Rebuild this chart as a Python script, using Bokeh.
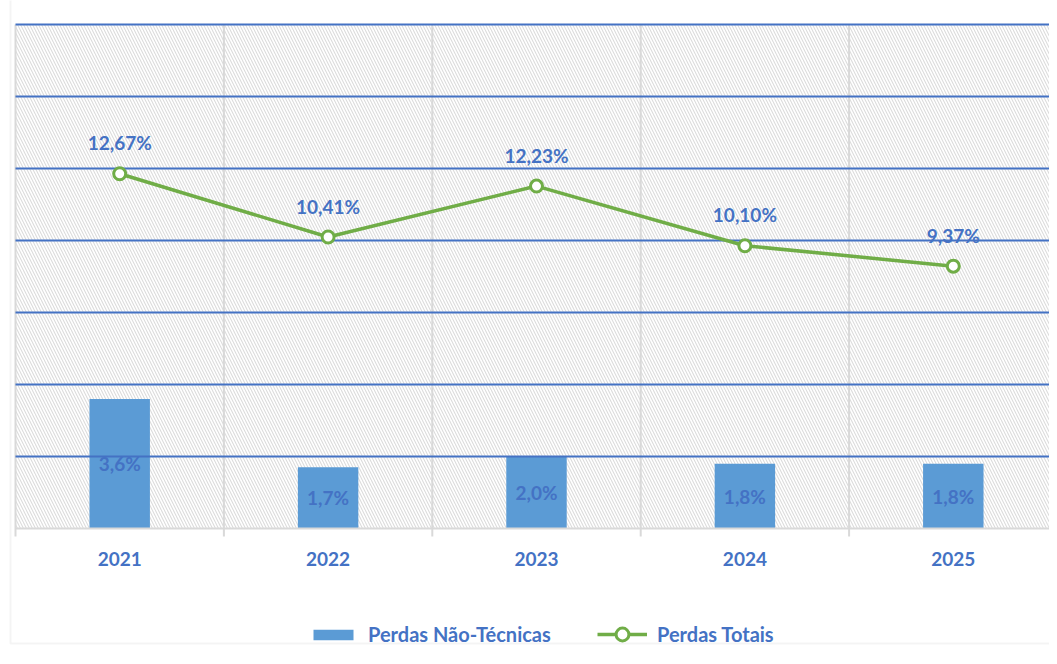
from bokeh.plotting import figure
from bokeh.models import (Range1d, BoxAnnotation, Legend, LegendItem,
                          ColumnDataSource)
from bokeh.core.properties import value
from bokeh.embed import file_html
from bokeh.resources import INLINE

years = ["2021", "2022", "2023", "2024", "2025"]
nao_tecnicas = [3.6, 1.7, 2.0, 1.8, 1.8]
totais = [12.67, 10.41, 12.23, 10.10, 9.37]
grid_values = [2, 4, 6, 8, 10, 12, 14]

BLUE_TXT = "#4472c4"
BAR = "#5b9bd5"
GREEN = "#70ad47"
GREY = "#d9d9d9"
FONT = "Lato"

# canvas / plot-area geometry (pixels)
W, H = 1049, 656
PL, PR, PT, PB = 15, 1057, 24, 528       # plot area edges (right edge runs past canvas)
Y1_MAX, Y2_MAX = 14, 18                   # primary / secondary axis maxima
n = len(years)
ux = (PR - PL) / n
uy1 = (PB - PT) / Y1_MAX
uy2 = (PB - PT) / Y2_MAX
tick_len = 8 / uy1

xs = [i + 0.5 for i in range(n)]
src = ColumnDataSource(dict(
    x=xs,
    bar=nao_tecnicas,
    bar_mid=[v / 2 for v in nao_tecnicas],
    bar_lbl=[f"{v:.1f}%".replace(".", ",") for v in nao_tecnicas],
    tot=totais,
    tot_lbl=[f"{v:.2f}%".replace(".", ",") for v in totais],
    zero=[0] * n,
    year=years,
))
bounds = list(range(n + 1))
vsrc = ColumnDataSource(dict(x=bounds, y0=[-tick_len] * len(bounds),
                             y1=[Y1_MAX] * len(bounds)))
hsrc = ColumnDataSource(dict(y=grid_values, x0=[0] * len(grid_values),
                             x1=[n] * len(grid_values)))

p = figure(width=W, height=H, output_backend="svg", toolbar_location=None,
           x_range=Range1d(-PL / ux, (W - PL) / ux),
           y_range=Range1d(-(H - PB) / uy1, Y1_MAX + PT / uy1),
           min_border=0, outline_line_color=None, background_fill_color="white")
p.extra_y_ranges = {"sec": Range1d(-(H - PB) / uy2, Y2_MAX + PT / uy2)}
p.xaxis.visible = False
p.yaxis.visible = False
p.grid.visible = False

# outer chart border (top/left visible)
outer = BoxAnnotation(left=10, right=W + 50, top=13, bottom=H + 50,
                      left_units="screen", right_units="screen",
                      top_units="screen", bottom_units="screen",
                      fill_alpha=0, line_color=GREY, line_width=2, level="overlay")
p.add_layout(outer)

# hatched plot background
hatch = BoxAnnotation(left=0, right=n, bottom=0, top=Y1_MAX,
                      fill_color="white", fill_alpha=1, line_color=None,
                      hatch_pattern="\\", hatch_color="#dcdcdc", hatch_scale=6,
                      hatch_weight=1.1, level="image")
p.add_layout(hatch)

# bars
bars = p.vbar(x="x", top="bar", width=0.29, source=src, fill_color=BAR,
              line_color=None, level="underlay")

# category separators (with tick marks below the axis), baseline, value gridlines
p.segment(x0="x", y0="y0", x1="x", y1="y1", source=vsrc, line_color=GREY,
          line_width=2, level="underlay")
p.segment(x0=[0], y0=[0], x1=[n], y1=[0], line_color=GREY, line_width=2,
          level="underlay")
p.segment(x0="x0", y0="y", x1="x1", y1="y", source=hsrc, line_color=BLUE_TXT,
          line_width=2, level="underlay")

p.text(x="x", y="bar_mid", text="bar_lbl", source=src, text_align="center",
       text_baseline="middle", text_color=BLUE_TXT, text_font=value(FONT),
       text_font_style="bold", text_font_size="19px")

# line
ln = p.line(x="x", y="tot", source=src, y_range_name="sec", line_color=GREEN,
            line_width=3.5)
mk = p.scatter(x="x", y="tot", source=src, y_range_name="sec", marker="circle",
               size=12, fill_color="white", line_color=GREEN, line_width=3)
p.text(x="x", y="tot", text="tot_lbl", source=src, y_range_name="sec",
       y_offset=-31, text_align="center", text_baseline="middle",
       text_color=BLUE_TXT, text_font=value(FONT), text_font_style="bold",
       text_font_size="19px")

# category labels under the axis
p.text(x="x", y="zero", text="year", source=src, y_offset=30,
       text_align="center", text_baseline="middle", text_color=BLUE_TXT,
       text_font=value(FONT), text_font_style="bold", text_font_size="19px")

leg_common = dict(orientation="horizontal", label_standoff=10,
                  label_text_font=FONT, label_text_font_style="bold",
                  label_text_font_size="20px", label_text_color=BLUE_TXT,
                  border_line_color=None, background_fill_alpha=0,
                  padding=0, margin=0, glyph_width=50)
leg_mid = H - 634   # legend row centre, from the canvas bottom
leg1 = Legend(items=[LegendItem(label="Perdas Não-Técnicas", renderers=[bars])],
              location=(308, leg_mid - 12), glyph_height=13, label_height=24,
              **leg_common)
leg2 = Legend(items=[LegendItem(label="Perdas Totais", renderers=[ln, mk])],
              location=(597, leg_mid - 16), glyph_height=32, label_height=24,
              **leg_common)
p.add_layout(leg1)
p.add_layout(leg2)

open("out.html", "w").write(file_html(p, INLINE))
